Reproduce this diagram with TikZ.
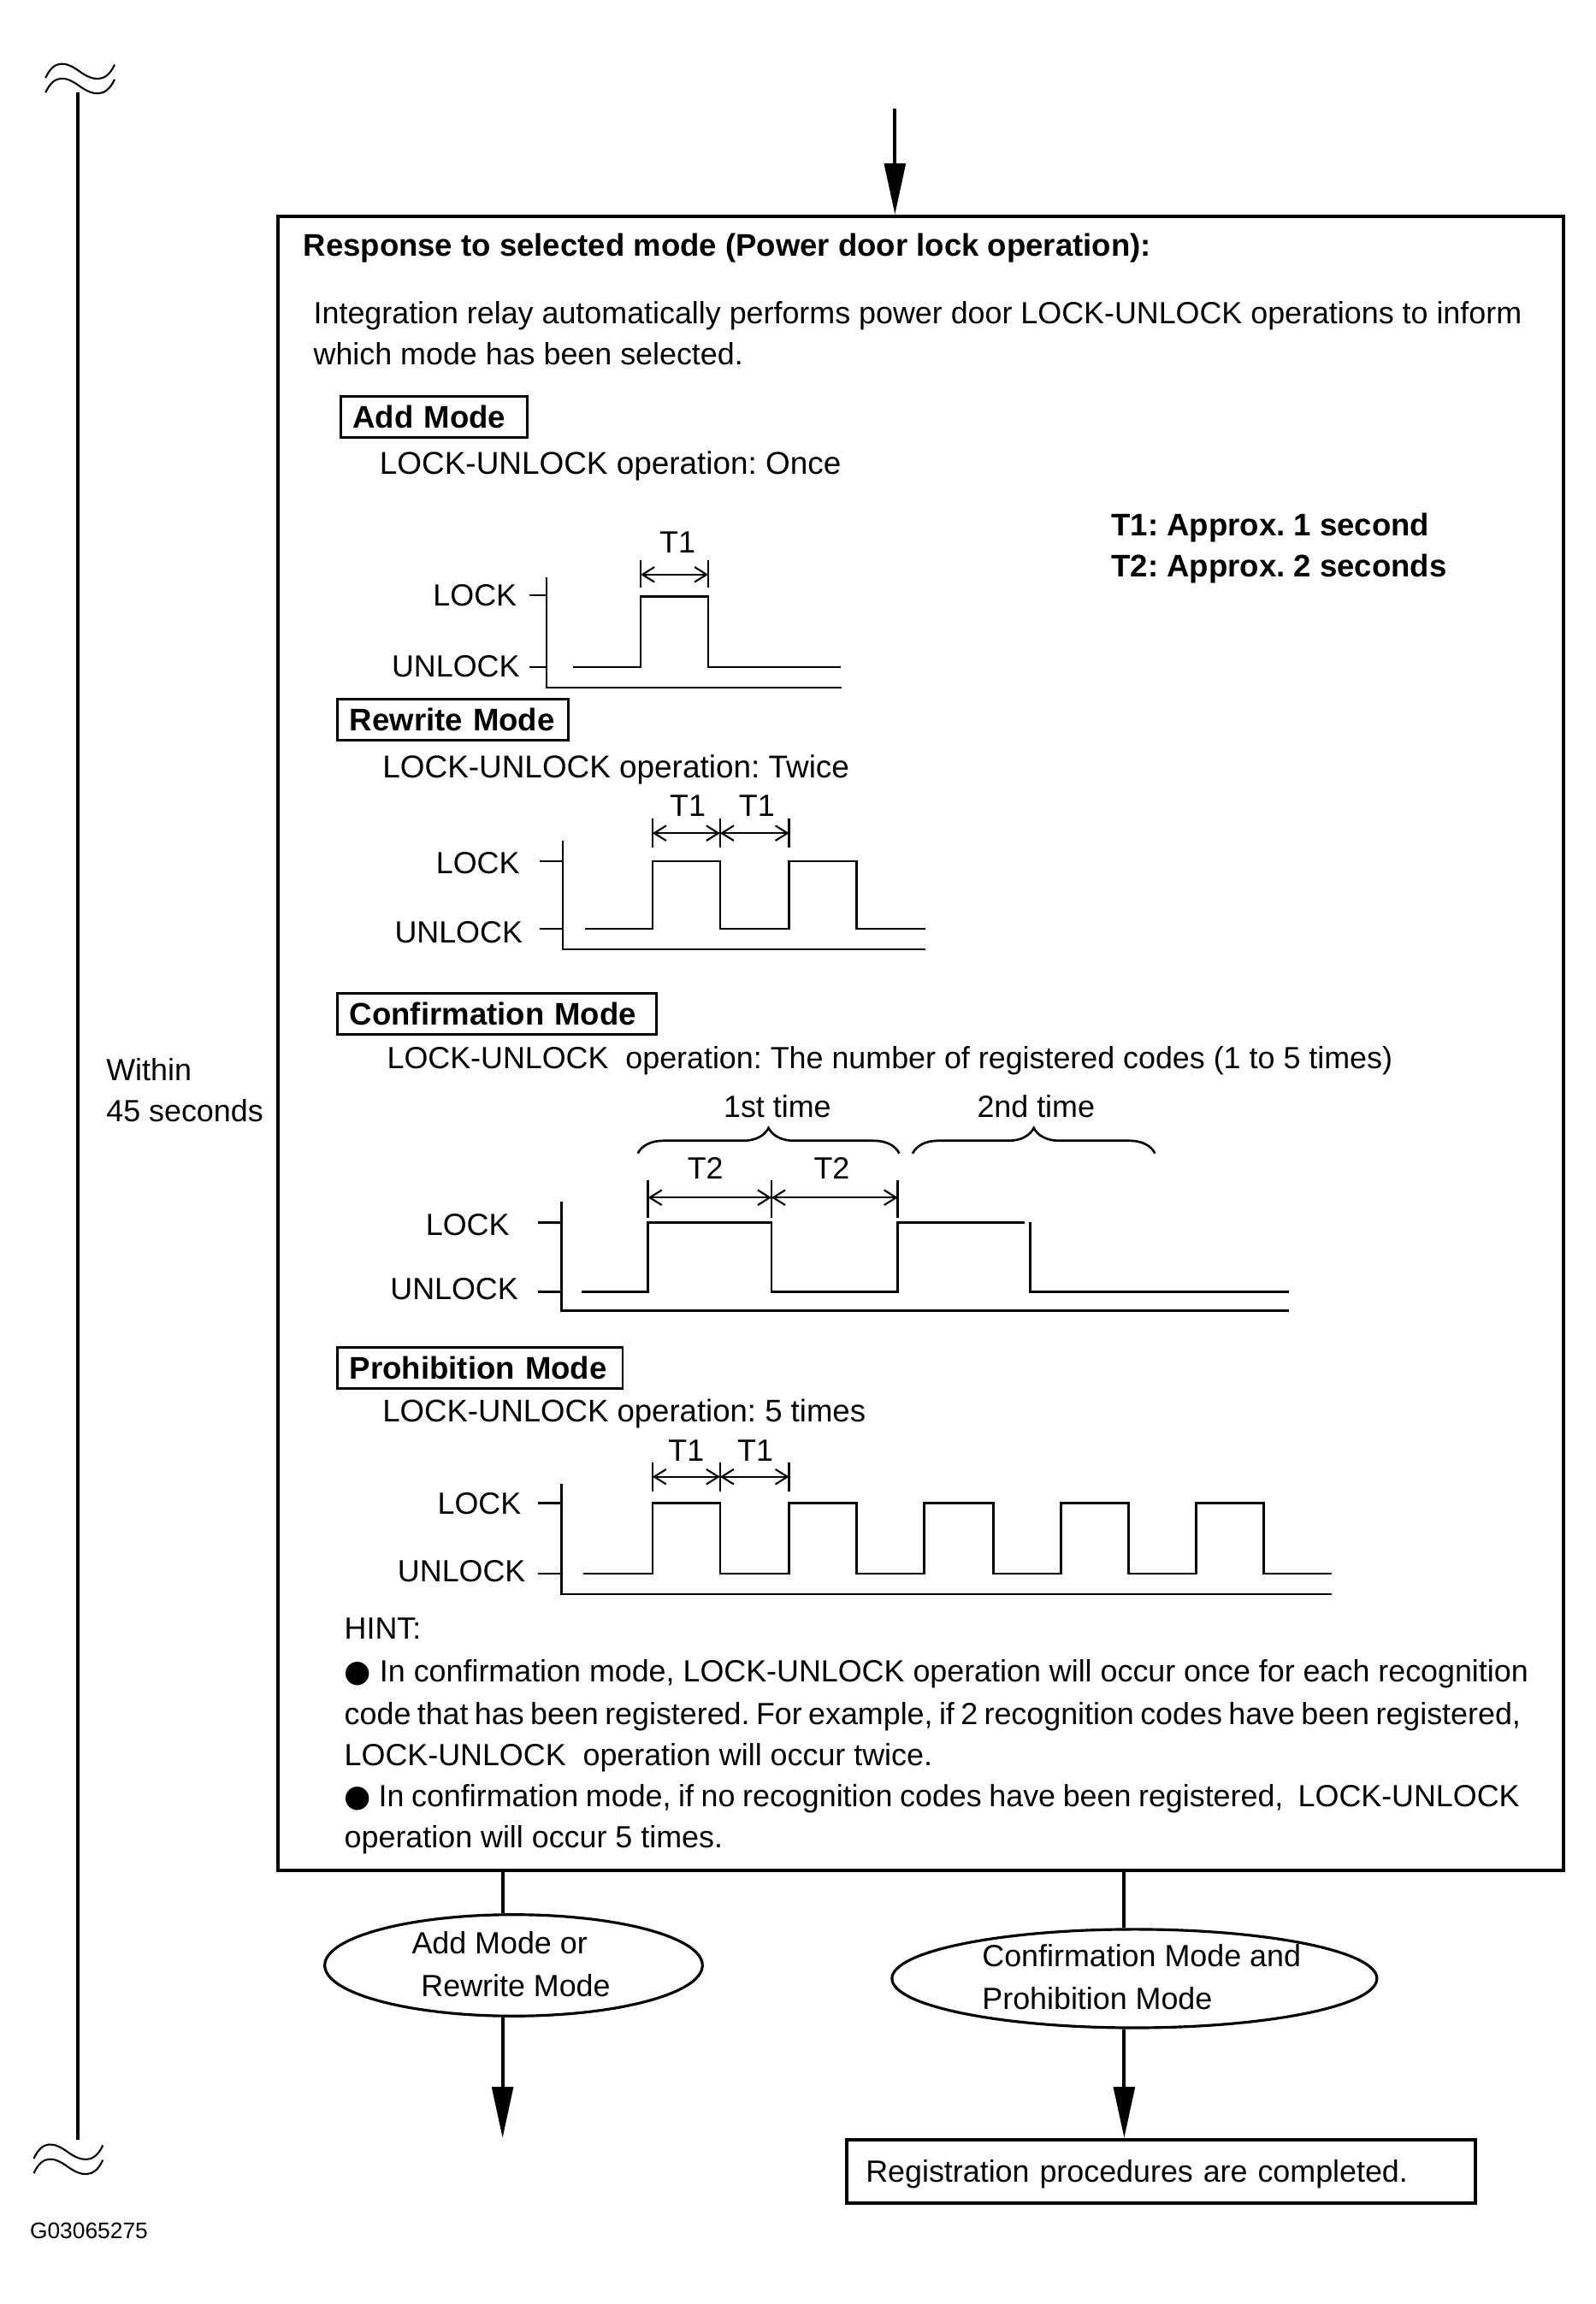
\documentclass[tikz,border=0pt]{standalone}
\usepackage{fontspec}
\setmainfont{Liberation Sans}
\newfontfamily\dejavu{DejaVu Sans}
\usetikzlibrary{arrows.meta,shapes.geometric,decorations.pathreplacing}
\newcommand\uu{0.01718cm}
\newcommand\fs{\fontsize{10.2}{12}\selectfont}
\newcommand\fb{\fontsize{10.4}{12}\selectfont\bfseries}
\frenchspacing
\begin{document}
\frenchspacing
\begin{tikzpicture}[x=0.01718cm, y=-0.01718cm,
  every node/.style={inner sep=0pt},
  txt/.style={anchor=west, text height=7.3pt, text depth=0pt, font=\fs},
  ctxt/.style={txt, anchor=center},
  rtxt/.style={txt, anchor=east},
  btxt/.style={txt, font=\fb},
  modebox/.style={draw, line width=0.8pt, anchor=north west, minimum height=13.7pt, inner xsep=4pt, text height=7.3pt, text depth=0pt, align=left, font=\fb},
  sig/.style={line width=0.75pt},
  dim/.style={line width=0.6pt, {Straight Barb[length=4pt,width=5pt]}-{Straight Barb[length=4pt,width=5pt]}},
  flow/.style={line width=1.1pt},
  flowarr/.style={flow, -{Triangle[length=17pt,width=7pt]}},
  wave/.style={line width=0.6pt},
  ]
\useasboundingbox (0,0) rectangle (1086,1568);

% left time line
\coordinate (tl1) at (53,63);
\coordinate (tl2) at (53,1456);
\draw[flow] (tl1) -- (tl2);
\draw[wave] (31,53) .. controls (37,40) and (45,42) .. (54,48.5) .. controls (63,55) and (72,57) .. (78,44);
\draw[wave] (31,63) .. controls (37,50) and (45,52) .. (54,58.5) .. controls (63,65) and (72,67) .. (78,54);
\draw[wave] (23,1469) .. controls (29,1456) and (37,1458) .. (46,1464.5) .. controls (55,1471) and (64,1473) .. (70,1460);
\draw[wave] (23,1479) .. controls (29,1466) and (37,1468) .. (46,1474.5) .. controls (55,1481) and (64,1483) .. (70,1470);
\node[txt] (within1) at (72,728) {Within};
\node[txt] (within2) at (72,756) {45 seconds};

% main box
\node[draw, line width=1.1pt, anchor=north west, minimum width=875*\uu, minimum height=1126*\uu] (main) at (188,146) {};
\coordinate (topstart) at (609,74);
\draw[flowarr] (topstart) -- (topstart |- main.north);

\node[btxt] (title) at (206,167) {Response to selected mode (Power door lock operation):};
\node[txt] (intro1) at (213,213) {Integration relay automatically performs power door LOCK-UNLOCK operations to inform};
\node[txt] (intro2) at (213,241) {which mode has been selected.};

\node[btxt] (t1def) at (756,357) {T1: Approx. 1 second};
\node[btxt] (t2def) at (756,385) {T2: Approx. 2 seconds};

% ---------- Add mode
\node[modebox, text width=54pt] (addmode) at (231,269) {Add Mode};
\node[txt, font=\fontsize{10.5}{12}\selectfont] (addop) at (258,315) {LOCK-UNLOCK operation: Once};
\node[rtxt] (alock) at (352,405) {LOCK};
\node[rtxt] (aunlock) at (354,453) {UNLOCK};
\draw[sig] (360,405) -- (372,405) (360,454) -- (372,454);
\draw[sig] (372,393) -- (372,468) -- (573,468);
\draw[sig] (390,454) -- (436,454) -- (436,406) -- (482,406) -- (482,454) -- (572,454);
\draw[sig] (436,381) -- (436,400) (482,381) -- (482,400);
\draw[dim] (436,391) -- (482,391);
\node[ctxt] (at1) at (461,369) {T1};

% ---------- Rewrite mode
\node[modebox, text width=68.7pt] (rewmode) at (229,475) {Rewrite Mode};
\node[txt, font=\fontsize{10.5}{12}\selectfont] (rewop) at (260,522) {LOCK-UNLOCK operation: Twice};
\node[rtxt] (rlock) at (354,587) {LOCK};
\node[rtxt] (runlock) at (356,634) {UNLOCK};
\draw[sig] (367,586) -- (383,586) (367,632) -- (383,632);
\draw[sig] (383,572) -- (383,646) -- (630,646);
\draw[sig] (398,632) -- (444,632) -- (444,586) -- (490,586) -- (490,632) -- (537,632) -- (537,586) -- (583,586) -- (583,632) -- (630,632);
\draw[sig] (444,557) -- (444,577) (490,557) -- (490,577) (537,557) -- (537,577);
\draw[dim] (444,567) -- (490,567);
\draw[dim] (490,567) -- (537,567);
\node[ctxt] (rt1a) at (468,548) {T1};
\node[ctxt] (rt1b) at (515,548) {T1};

% ---------- Confirmation mode
\node[modebox, text width=98pt] (confmode) at (229,675) {Confirmation Mode};
\node[txt] (confop) at (263,720) {LOCK-UNLOCK\ \ operation: The number of registered codes (1 to 5 times)};
\node[ctxt] (first) at (529,753) {1st time};
\node[ctxt] (second) at (705,753) {2nd time};
\draw[sig, decorate, decoration={brace, amplitude=8.5pt}] (434,785) -- (612,785);
\draw[sig, decorate, decoration={brace, amplitude=8.5pt}] (621,785) -- (786,785);
\node[rtxt] (clock) at (347,833) {LOCK};
\node[rtxt] (cunlock) at (353,877) {UNLOCK};
\draw[sig] (366,832) -- (382,832) (366,879) -- (382,879);
\draw[sig] (382,818) -- (382,892) -- (877,892);
\draw[sig] (396,879) -- (441,879) -- (441,832) -- (525,832) -- (525,879) -- (611,879) -- (611,832) -- (697,832);
\draw[sig] (701,832) -- (701,879) -- (877,879);
\draw[sig] (441,803) -- (441,829) (525,803) -- (525,829) (611,803) -- (611,829);
\draw[dim] (441,815) -- (525,815);
\draw[dim] (525,815) -- (611,815);
\node[ctxt] (ct2a) at (480,795) {T2};
\node[ctxt] (ct2b) at (566,795) {T2};

% ---------- Prohibition mode
\node[modebox, text width=86.8pt] (prohmode) at (229,916) {Prohibition Mode};
\node[txt, font=\fontsize{10.4}{12}\selectfont] (prohop) at (260,960) {LOCK-UNLOCK operation: 5 times};
\node[rtxt] (plock) at (355,1023) {LOCK};
\node[rtxt] (punlock) at (358,1069) {UNLOCK};
\draw[sig] (366,1023) -- (382,1023) (366,1071) -- (382,1071);
\draw[sig] (382,1010) -- (382,1085) -- (906,1085);
\draw[sig] (397,1071) -- (444,1071) -- (444,1023) -- (490,1023) -- (490,1071)
  -- (537,1071) -- (537,1023) -- (583,1023) -- (583,1071)
  -- (629,1071) -- (629,1023) -- (676,1023) -- (676,1071)
  -- (722,1071) -- (722,1023) -- (768,1023) -- (768,1071)
  -- (814,1071) -- (814,1023) -- (860,1023) -- (860,1071) -- (906,1071);
\draw[sig] (444,995) -- (444,1015) (490,995) -- (490,1015) (537,995) -- (537,1015);
\draw[dim] (444,1005) -- (490,1005);
\draw[dim] (490,1005) -- (537,1005);
\node[ctxt] (pt1a) at (467,987) {T1};
\node[ctxt] (pt1b) at (514,987) {T1};

% ---------- hint
\node[txt] (hint) at (234,1108) {HINT:};
\node[txt] (h1) at (234,1137) {{\dejavu ●} In confirmation mode, LOCK-UNLOCK operation will occur once for each recognition};
\node[txt] (h2) at (234,1166) {\spaceskip=2.1pt plus 0.5pt code that has been registered. For example, if 2 recognition codes have been registered,};
\node[txt] (h3) at (234,1194) {LOCK-UNLOCK\ \ operation will occur twice.};
\node[txt] (h4) at (234,1222) {\spaceskip=2.45pt plus 0.5pt{\dejavu ●} In confirmation mode, if no recognition codes have been registered,\ \ LOCK-UNLOCK};
\node[txt] (h5) at (234,1250) {operation will occur 5 times.};

% ---------- outcomes
\node[draw, ellipse, line width=0.9pt, minimum width=257*\uu, minimum height=69*\uu] (e1) at (349.5,1337.5) {};
\node[ctxt] (e1a) at (340,1322) {Add Mode or};
\node[ctxt] (e1b) at (351,1351) {Rewrite Mode};
\node[draw, ellipse, line width=0.9pt, minimum width=330*\uu, minimum height=67*\uu] (e2) at (772,1346.5) {};
\node[txt] (e2a) at (668,1331) {Confirmation Mode and};
\node[txt] (e2b) at (668,1360) {Prohibition Mode};
\node[draw, line width=1.1pt, anchor=north west, minimum height=43*\uu, text width=196.4pt, inner xsep=6.4pt, align=left, text height=7.3pt, text depth=0pt, font=\fs] (done) at (575,1455) {Registration procedures are completed.};

\coordinate (c1) at (342,0);
\coordinate (c2) at (765,0);
\coordinate (end1) at (342,1455);
\draw[flow] (main.south -| c1) -- (e1.north -| c1);
\draw[flowarr] (e1.south -| c1) -- (end1);
\draw[flow] (main.south -| c2) -- (e2.north -| c2);
\draw[flowarr] (e2.south -| c2) -- (done.north -| c2);

\node[txt, font=\fontsize{7.5}{9}\selectfont, text height=5.4pt] (gid) at (20,1518) {G03065275};
\end{tikzpicture}
\end{document}
